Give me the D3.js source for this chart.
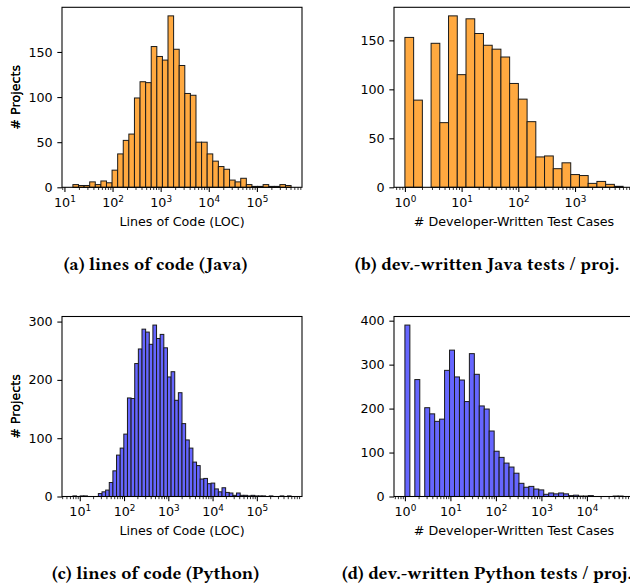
<!DOCTYPE html>
<html>
<head>
<meta charset="utf-8">
<script src="https://cdn.jsdelivr.net/npm/d3@7"></script>
<style>
  body { margin: 0; background: #fff; }
  svg text { font-family: "DejaVu Sans", sans-serif; fill: #000; font-weight: normal; }
  svg text.cap { font-family: "Linux Libertine", "Libertinus Serif", "Liberation Serif", serif; font-weight: bold; }
</style>
</head>
<body>
<svg id="fig" width="630" height="586"></svg>
<script>
// histogram counts per log-spaced bin
const locJava   = [3,2,2,6,3,7,5,19,37,52,59,99,117,116,156,145,141,190,153,135,104,102,50,50,37,29,23,20,8,6,10,3,1,1,3,1,1,3,2];
const testsJava = [153,89,0,147,66,175,115,172,157,145,141,133,106,90,67,31,32,19,25,13,12,4,6,3,1];
const locPy     = [1,0,1,1,0,0,0,5,8,11,24,44,71,83,107,169,168,228,253,287,282,261,294,271,278,255,205,214,165,178,125,97,83,59,53,30,31,22,23,13,8,15,7,6,2,6,2,2,1,2,1,1,1,0,1,0,0,1,0,1];
const testsPy   = [390,0,266,0,202,188,171,176,287,333,272,265,216,325,278,206,199,149,103,89,76,67,53,30,21,23,17,15,5,8,6,8,6,2,3,1,1,2,0,0,0,0,1,1];

// data range (min, max value) covered by the bins
const locJavaRange   = [15, 514000];
const testsJavaRange = [1, 7040];
const locPyRange     = [7, 594000];
const testsPyRange   = [1, 62400];

// tick labels
const yTicksJava  = [0, 50, 100, 150];
const yTicksLocPy = [0, 100, 200, 300];
const yTicksTstPy = [0, 100, 200, 300, 400];
const xExpLoc   = [1, 2, 3, 4, 5];
const xExpTests = [0, 1, 2, 3];
const xExpTestsPy = [0, 1, 2, 3, 4];

const captions = [
  "(a) lines of code (Java)",
  "(b) dev.-written Java tests / proj.",
  "(c) lines of code (Python)",
  "(d) dev.-written Python tests / proj."
];

const W = 240, H = 180;
const fs = 12.7;
const tickLen = 4.67, tickPad = 4.67;
const svg = d3.select("#fig");

function panel(left, top, counts, range, yTicks, xExp, fill, xLabel) {
  const g = svg.append("g").attr("transform", `translate(${left},${top})`);
  const n = counts.length;
  const lo = Math.log10(range[0]), hi = Math.log10(range[1]);
  const edges = d3.range(n + 1).map(i => Math.pow(10, lo + (hi - lo) * i / n));
  const pad = 0.05 * (hi - lo);

  const x = d3.scaleLog().domain([Math.pow(10, lo - pad), Math.pow(10, hi + pad)]).range([0, W]);
  const y = d3.scaleLinear().domain([0, d3.max(counts) * 1.05]).range([H, 0]);

  // bars
  g.selectAll(".bar")
    .data(counts.map((c, i) => ({c: c, x0: edges[i], x1: edges[i + 1]})).filter(d => d.c > 0))
    .enter()
    .append("rect")
      .attr("class", "bar")
      .attr("x", d => x(d.x0))
      .attr("y", d => y(d.c))
      .attr("width", d => x(d.x1) - x(d.x0))
      .attr("height", d => H - y(d.c))
      .attr("fill", fill)
      .attr("stroke", "#1a1a1a")
      .attr("stroke-width", 1);

  // minor ticks
  const dom = x.domain();
  const minor = [];
  for (let k = Math.floor(Math.log10(dom[0])); k <= Math.ceil(Math.log10(dom[1])); k++) {
    for (let m = 2; m <= 9; m++) {
      const v = m * Math.pow(10, k);
      if (v >= dom[0] && v <= dom[1]) minor.push(v);
    }
  }
  const minorAxis = g.append("g")
    .attr("transform", `translate(0,${H})`)
    .call(d3.axisBottom(x).tickValues(minor).tickSize(2.67).tickFormat(""));
  minorAxis.select(".domain").remove();
  minorAxis.selectAll("line").attr("stroke-width", 0.8);

  // major x ticks with 10^k labels
  const xAxis = g.append("g")
    .attr("transform", `translate(0,${H})`)
    .call(d3.axisBottom(x).tickValues(xExp.map(e => Math.pow(10, e))).tickSize(tickLen).tickFormat(""));
  xAxis.select(".domain").remove();
  xAxis.selectAll("line").attr("stroke-width", 1.07);
  xAxis.selectAll(".tick").each(function(d) {
    const t = d3.select(this).append("text")
      .attr("y", tickLen + tickPad + 10.2)
      .attr("text-anchor", "middle")
      .attr("font-size", fs);
    t.append("tspan").text("10");
    t.append("tspan").attr("font-size", fs * 0.7).attr("dy", -5.2).text(Math.round(Math.log10(d)));
  });

  // y axis
  const yAxis = g.append("g")
    .call(d3.axisLeft(y).tickValues(yTicks).tickSize(tickLen).tickPadding(tickPad));
  yAxis.select(".domain").remove();
  yAxis.selectAll("line").attr("stroke-width", 1.07);
  yAxis.selectAll("text").attr("font-size", fs).attr("font-family", "DejaVu Sans");

  // frame
  g.append("rect")
    .attr("width", W).attr("height", H)
    .attr("fill", "none").attr("stroke", "#000").attr("stroke-width", 1.07);

  // labels
  g.append("text")
    .attr("x", W / 2).attr("y", H + 38.7)
    .attr("text-anchor", "middle").attr("font-size", fs)
    .text(xLabel);
  g.append("text")
    .attr("transform", `translate(${19.5 - left},${H / 2}) rotate(-90)`)
    .attr("text-anchor", "middle").attr("font-size", fs)
    .text("# Projects");
}

const orange = "rgb(255,169,64)";
const blue = "rgb(102,102,255)";

panel(62, 7.3, locJava, locJavaRange, yTicksJava, xExpLoc, orange, "Lines of Code (LOC)");
panel(394, 7.3, testsJava, testsJavaRange, yTicksJava, xExpTests, orange, "# Developer-Written Test Cases");
panel(62, 316.5, locPy, locPyRange, yTicksLocPy, xExpLoc, blue, "Lines of Code (LOC)");
panel(394, 316.5, testsPy, testsPyRange, yTicksTstPy, xExpTestsPy, blue, "# Developer-Written Test Cases");

// sub-figure captions
const capPos = [[155.5, 269.5], [487, 269.5], [155.5, 579], [487, 579]];
svg.selectAll(".cap")
  .data(captions)
  .enter()
  .append("text")
    .attr("class", "cap")
    .attr("x", (d, i) => capPos[i][0])
    .attr("y", (d, i) => capPos[i][1])
    .attr("text-anchor", "middle")
    .attr("font-size", 18.5)
    .text(d => d);
</script>
</body>
</html>
